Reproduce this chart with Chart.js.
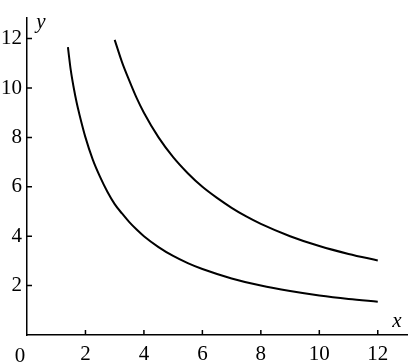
<!DOCTYPE html>
<html>
<head>
<meta charset="utf-8">
<script src="https://cdn.jsdelivr.net/npm/chart.js@4"></script>
<style>
html,body{margin:0;padding:0;background:#fff;}
#wrap{width:411px;height:364px;}
</style>
</head>
<body>
<div id="wrap"><canvas id="c" width="411" height="364"></canvas></div>
<script>
// Values
const lowerX = [1.4, 1.5, 1.6, 1.7, 1.8, 2.0, 2.25, 2.5, 2.75, 3.0, 3.25, 3.5, 3.75, 4.0, 4.5, 5.0, 5.5, 6.0, 7.0, 8.0, 9.0, 10.0, 11.0, 12.0];
const lowerY = [11.65, 10.7, 10.0, 9.4, 8.9, 8.0, 7.1, 6.4, 5.8, 5.3, 4.92, 4.57, 4.27, 4.0, 3.56, 3.2, 2.91, 2.67, 2.29, 2.0, 1.78, 1.6, 1.46, 1.35];
const upperX = [3.0, 3.25, 3.5, 3.75, 4.0, 4.5, 5.0, 5.5, 6.0, 6.5, 7.0, 7.5, 8.0, 9.0, 10.0, 11.0, 12.0];
const upperY = [11.95, 11.05, 10.3, 9.6, 9.0, 8.0, 7.2, 6.55, 6.0, 5.55, 5.15, 4.8, 4.5, 4.0, 3.6, 3.28, 3.02];
const xTicks = [0, 2, 4, 6, 8, 10, 12];
const yTicks = [2, 4, 6, 8, 10, 12];
const xTitle = 'x';
const yTitle = 'y';

const FONT = '"Liberation Serif", "DejaVu Serif", serif';

const toPts = (xs, ys) => xs.map((x, i) => ({x: x, y: ys[i]}));

const decor = {
  id: 'decor',
  afterDraw(chart) {
    const ctx = chart.ctx;
    const xs = chart.scales.x, ys = chart.scales.y;
    const a = chart.chartArea;
    ctx.save();
    ctx.strokeStyle = '#000';
    ctx.lineWidth = 1.5;
    ctx.beginPath();
    xTicks.forEach(v => {
      if (v === 0) return;
      const px = xs.getPixelForValue(v);
      ctx.moveTo(px, a.bottom);
      ctx.lineTo(px, a.bottom - 5);
    });
    yTicks.forEach(v => {
      const py = ys.getPixelForValue(v);
      ctx.moveTo(a.left, py);
      ctx.lineTo(a.left + 5, py);
    });
    ctx.stroke();
    ctx.fillStyle = '#000';
    ctx.font = 'italic 21px ' + FONT;
    ctx.textBaseline = 'alphabetic';
    ctx.textAlign = 'center';
    ctx.fillText(yTitle, a.left + 14, a.top + 10);
    ctx.fillText(xTitle, a.right - 10, a.bottom - 8);
    ctx.font = '21px ' + FONT;
    ctx.fillText('0', xs.getPixelForValue(0) - 7, a.bottom + 27);
    ctx.restore();
  }
};

new Chart(document.getElementById('c'), {
  type: 'line',
  data: {
    datasets: [
      {data: toPts(lowerX, lowerY), borderColor: '#000', borderWidth: 2, pointRadius: 0, fill: false, cubicInterpolationMode: 'monotone'},
      {data: toPts(upperX, upperY), borderColor: '#000', borderWidth: 2, pointRadius: 0, fill: false, cubicInterpolationMode: 'monotone'}
    ]
  },
  options: {
    responsive: false,
    animation: false,
    devicePixelRatio: 1,
    layout: {padding: {top: 13, right: 4, left: 0, bottom: 0}},
    plugins: {legend: {display: false}, tooltip: {enabled: false}},
    scales: {
      x: {
        type: 'linear', min: 0, max: 13,
        afterBuildTicks: s => { s.ticks = xTicks.map(v => ({value: v})); },
        afterFit: s => { s.height = 29; },
        grid: {display: false, drawTicks: false},
        border: {display: true, color: '#000', width: 1.5},
        ticks: {color: '#000', font: {family: FONT, size: 21}, padding: 7, maxRotation: 0,
          callback: v => v === 0 ? '' : String(v)}
      },
      y: {
        type: 'linear', min: 0, max: 12.85,
        afterBuildTicks: s => { s.ticks = yTicks.map(v => ({value: v})); },
        afterFit: s => { s.width = 27; },
        grid: {display: false, drawTicks: false},
        border: {display: true, color: '#000', width: 1.5},
        ticks: {color: '#000', font: {family: FONT, size: 21}, padding: 5,
          callback: v => String(v)}
      }
    }
  },
  plugins: [decor]
});
</script>
</body>
</html>
